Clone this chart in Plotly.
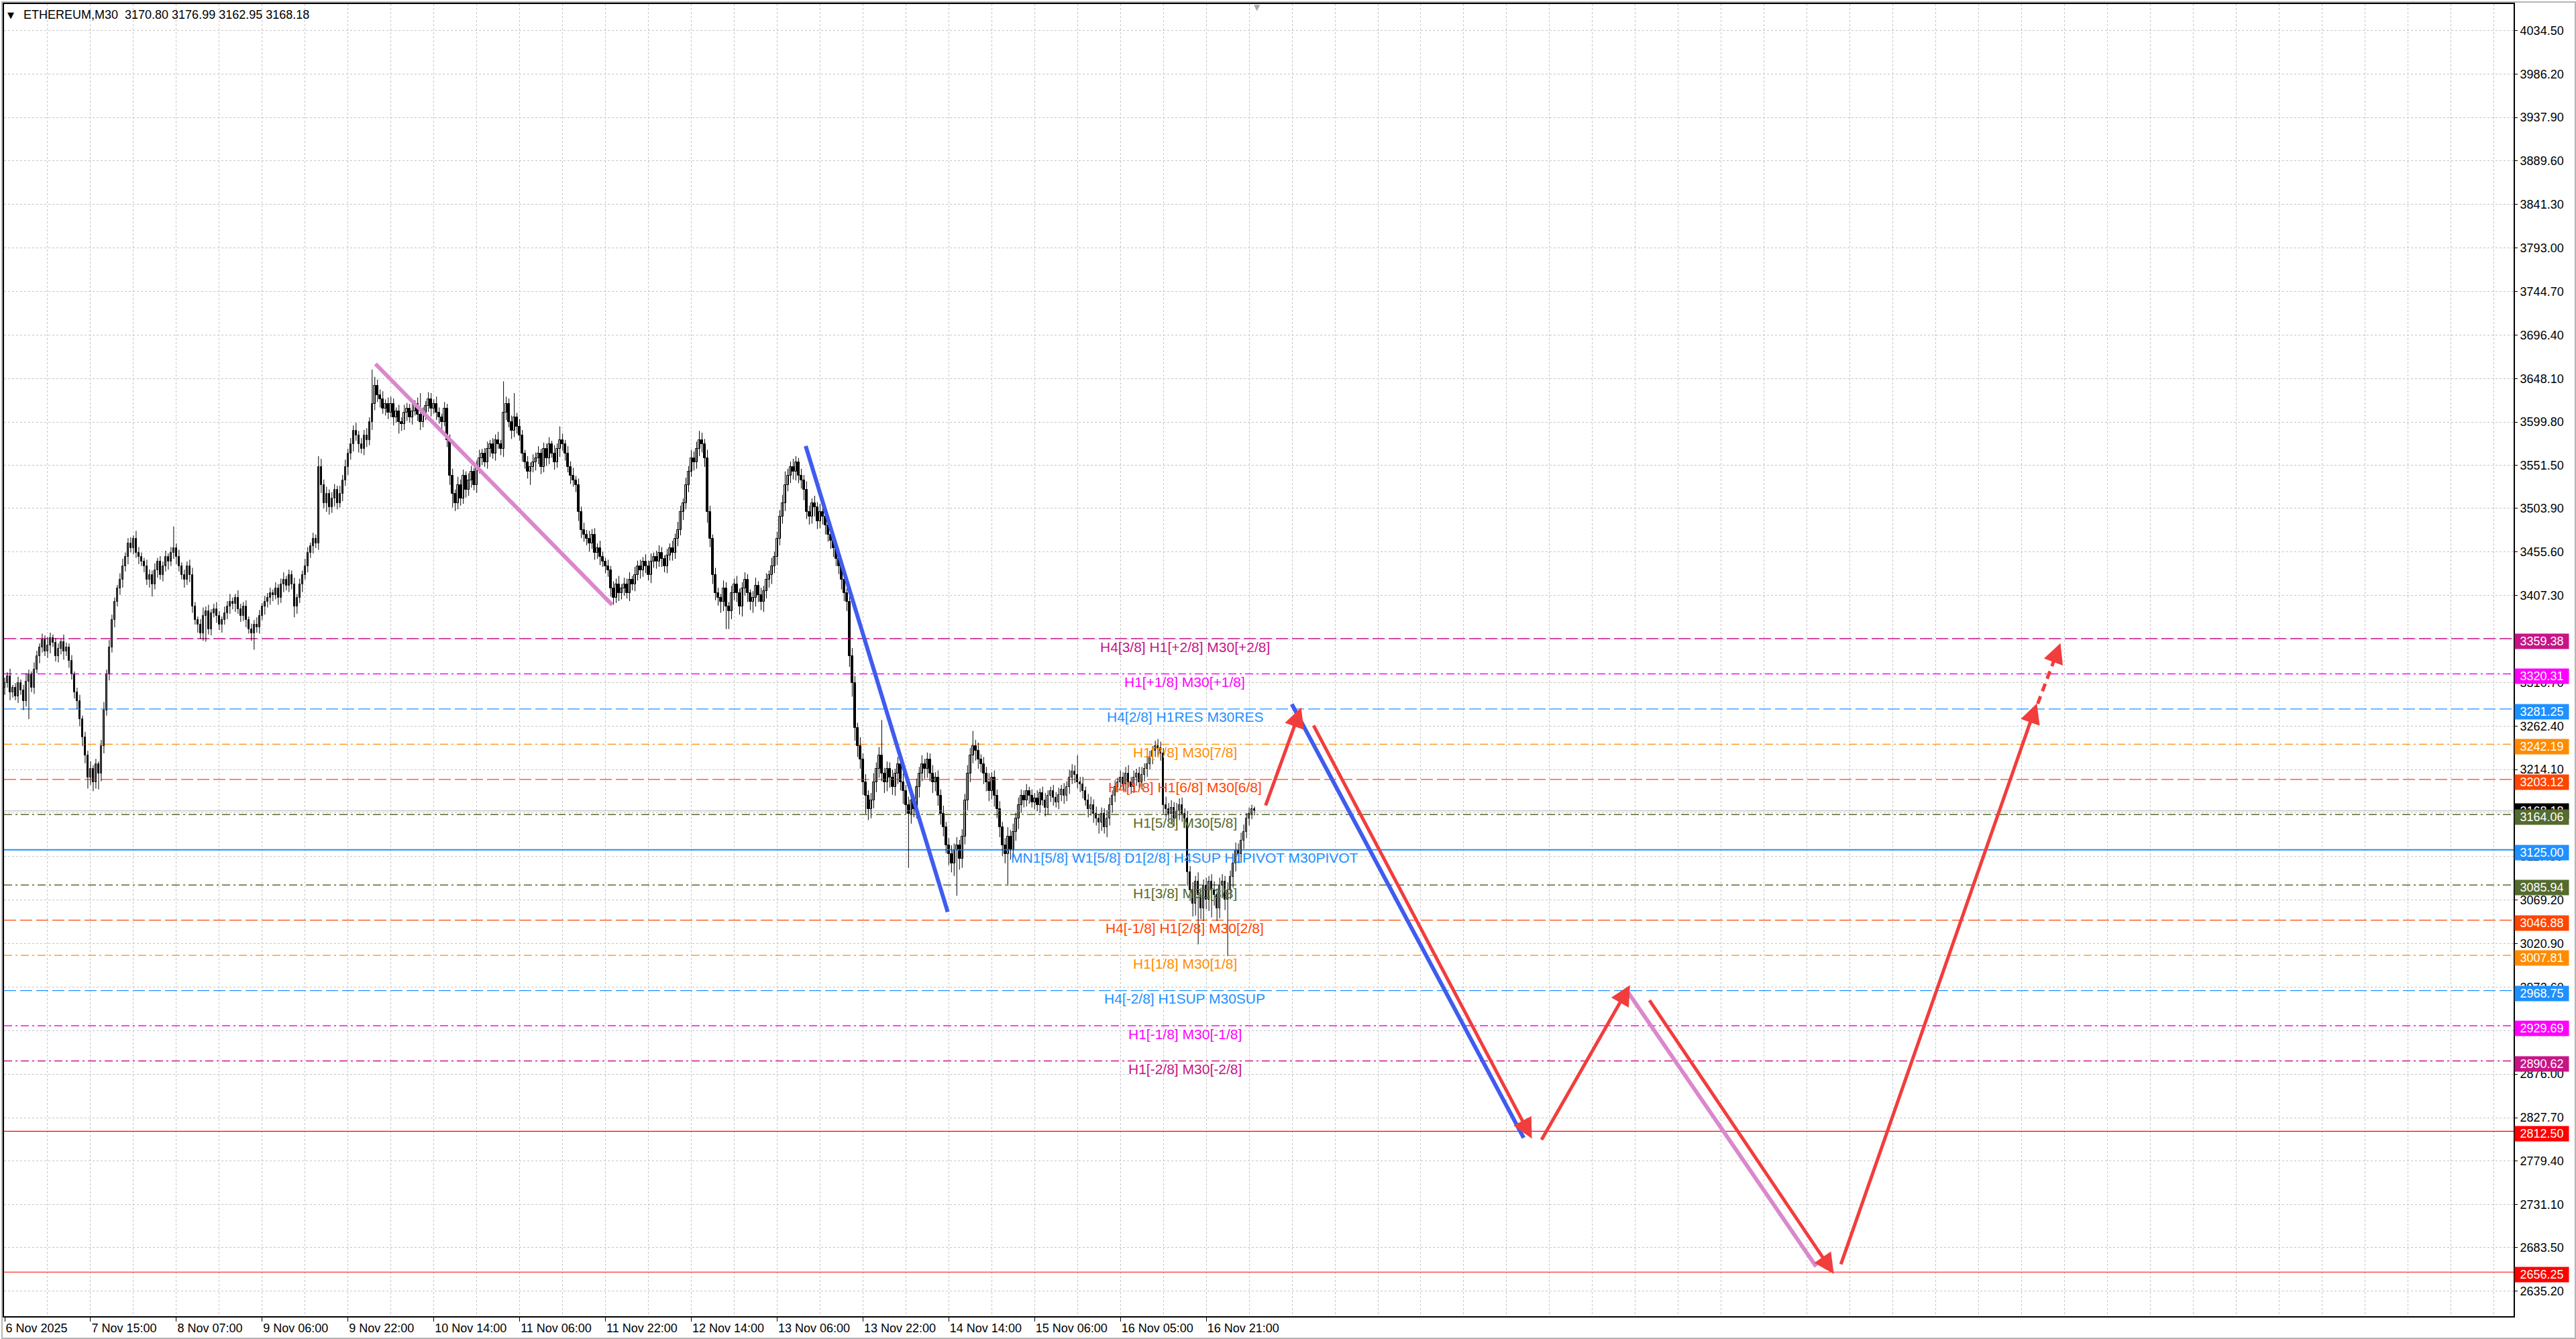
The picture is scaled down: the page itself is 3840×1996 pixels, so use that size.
import plotly.graph_objects as go

# ---------------- data ----------------
title_text = "ETHEREUM,M30  3170.80 3176.99 3162.95 3168.18"
first_open = 3305
closes = [
    3310, 3318, 3300, 3305, 3295, 3310, 3302, 3290, 3312, 3320, 3305, 3325,
    3340, 3350, 3358, 3345, 3352, 3360, 3355, 3340, 3348, 3356, 3345,
    3350, 3335, 3320, 3300, 3290, 3270,
    3250, 3230, 3205, 3215, 3200, 3220, 3210,
    3240, 3280, 3320, 3350, 3380, 3400, 3415,
    3425, 3440, 3450, 3465, 3460, 3470, 3455, 3450, 3445,
    3440, 3425, 3430, 3420, 3435, 3445, 3430, 3440, 3450, 3445, 3455, 3460, 3450, 3440, 3430, 3425, 3440, 3430,
    3395, 3380, 3375, 3365, 3385, 3390, 3370, 3388, 3392, 3385, 3375, 3380, 3388,
    3395, 3400, 3398, 3405, 3392, 3385, 3395, 3380, 3370, 3365, 3375, 3372, 3385, 3395, 3400, 3405,
    3410, 3408, 3415, 3405, 3420, 3425, 3418, 3430, 3420, 3395, 3405, 3420,
    3430, 3440, 3455, 3462, 3470, 3465, 3550,
    3530, 3510, 3520, 3505, 3515, 3525, 3510, 3520, 3535,
    3550, 3565, 3575, 3590, 3585,
    3575, 3570, 3585, 3580, 3600, 3620,
    3640, 3630, 3625, 3615, 3620,
    3610, 3620, 3605, 3612, 3600, 3598, 3610, 3615, 3605, 3612, 3620, 3608, 3600, 3610, 3618, 3625,
    3615, 3620, 3610, 3605, 3600, 3615, 3580, 3540,
    3520, 3510, 3530, 3515, 3540, 3525, 3535, 3545, 3530, 3550,
    3560, 3565, 3555, 3570, 3575, 3565, 3580, 3575, 3570,
    3610, 3620, 3600, 3590, 3605, 3595, 3585,
    3565, 3555, 3545, 3550,
    3555, 3560, 3565, 3550, 3570, 3560, 3575, 3565, 3555, 3570, 3580, 3575,
    3565, 3550, 3540, 3535, 3530,
    3500, 3480, 3475,
    3470, 3465, 3475, 3455, 3460, 3450, 3445, 3440, 3435,
    3415, 3405, 3420,
    3410, 3415, 3420, 3410, 3425, 3420,
    3430, 3440, 3435, 3445, 3440, 3430, 3445, 3450, 3445, 3455, 3448, 3440, 3452, 3460,
    3455, 3470, 3480, 3500, 3510, 3530, 3545, 3560, 3555, 3570,
    3580, 3575, 3560,
    3500, 3470, 3430, 3410,
    3405, 3400, 3415, 3395, 3390, 3410, 3420, 3410, 3395, 3415, 3425, 3410, 3400, 3405, 3418, 3408, 3400, 3412, 3425, 3430, 3440, 3450,
    3470, 3495, 3510, 3530, 3540,
    3550, 3545, 3555, 3540, 3535, 3525,
    3500, 3495, 3510, 3505, 3490, 3500, 3495, 3485,
    3475, 3468, 3460, 3448, 3440, 3425, 3410, 3400, 3340, 3310,
    3260, 3240, 3225, 3200, 3185, 3170, 3180, 3200,
    3215, 3230, 3210, 3200, 3215,
    3205, 3195, 3210, 3220, 3200, 3190,
    3175, 3165, 3180, 3170, 3195, 3210,
    3220, 3215, 3225, 3210, 3200, 3205, 3185,
    3165, 3150, 3130, 3120, 3110, 3125,
    3130, 3115, 3140, 3180, 3210,
    3230, 3240, 3235, 3225, 3220,
    3210, 3200, 3190, 3205, 3185, 3170,
    3150, 3130, 3120, 3140, 3125, 3145,
    3160, 3175, 3185, 3180, 3190,
    3185, 3178, 3182, 3175, 3188, 3180, 3172, 3185, 3190, 3183, 3178, 3186, 3192, 3185, 3195, 3205, 3212,
    3208, 3200, 3198, 3190,
    3180, 3170, 3175, 3165, 3160,
    3155, 3165, 3150, 3160, 3175,
    3185, 3195, 3200,
    3205, 3198, 3210, 3200, 3195, 3205, 3210, 3200, 3208,
    3215, 3220, 3228, 3235, 3240, 3238, 3232,
    3175, 3170, 3165, 3172, 3160, 3168, 3175, 3165, 3160, 3100,
    3080, 3065, 3090, 3075, 3060, 3085, 3070, 3090, 3080,
    3075, 3060, 3085, 3090, 3070, 3080, 3095,
    3110, 3125, 3120, 3135, 3145, 3160, 3165, 3170, 3168.18,
]
upper_wick = [
    6, 4, 8, 3, 5, 7, 4, 6, 9, 5, 3, 8, 6, 4, 7, 5, 9, 6, 4, 5,
    6, 3, 8, 5, 4, 6, 3, 5, 7, 4, 6, 5, 8, 4, 6, 3, 7, 9, 5, 8,
    6, 5, 4, 7, 8, 5, 6, 7, 4, 9, 6, 5, 4, 7, 6, 5, 8, 4, 6, 5,
    7, 4, 6, 24, 5, 8, 4, 6, 5, 7, 8, 5, 4, 6, 9, 5, 7, 4, 6, 8,
    5, 4, 7, 6, 9, 5, 4, 8, 6, 5, 7, 4, 6, 5, 8, 6, 4, 7, 5, 6,
    4, 7, 5, 6, 8, 4, 6, 5, 7, 4, 6, 5, 8, 6, 4, 7, 5, 12, 9, 6,
    8, 5, 7, 6, 4, 9, 6, 8, 5, 7, 6, 9, 5, 7, 6, 8, 5, 38, 10, 7,
    6, 9, 5, 7, 8, 6, 4, 7, 5, 9, 6, 5, 8, 4, 7, 24, 6, 5, 8, 7,
    5, 8, 6, 4, 7, 5, 6, 8, 5, 9, 6, 7, 5, 8, 6, 4, 7, 9, 5, 6,
    8, 5, 7, 6, 9, 5, 35, 8, 6, 7, 27, 5, 8, 6, 4, 7, 5, 9, 6, 8,
    5, 7, 6, 8, 4, 9, 6, 15, 7, 5, 8, 6, 9, 5, 7, 6, 8, 5, 9, 6,
    7, 5, 8, 6, 4, 7, 5, 8, 6, 9, 5, 7, 6, 8, 4, 9, 6, 7, 5, 8,
    6, 9, 5, 7, 8, 6, 4, 7, 5, 8, 6, 9, 7, 5, 8, 6, 9, 7, 8, 10,
    8, 6, 9, 7, 5, 8, 6, 4, 9, 7, 5, 8, 6, 9, 5, 7, 8, 6, 4, 7,
    9, 5, 8, 6, 7, 5, 9, 6, 8, 7, 9, 15, 8, 6, 9, 7, 5, 8, 6, 9,
    7, 5, 8, 6, 9, 5, 7, 8, 6, 5, 7, 9, 6, 8, 5, 7, 9, 8, 6, 10,
    7, 9, 6, 8, 10, 7, 9, 39, 6, 8, 7, 9, 5, 8, 6, 10, 7, 9, 8, 6,
    9, 7, 10, 6, 8, 7, 9, 6, 8, 7, 9, 6, 8, 10, 7, 9, 6, 8, 7, 9,
    8, 17, 7, 9, 6, 8, 7, 10, 6, 8, 7, 9, 6, 8, 10, 7, 9, 6, 8, 7,
    6, 8, 5, 7, 6, 9, 5, 7, 8, 6, 5, 7, 6, 8, 5, 7, 6, 9, 8, 7,
    22, 6, 8, 5, 7, 9, 6, 8, 5, 7, 6, 9, 8, 6, 7, 5, 8, 6, 7, 9,
    6, 8, 5, 7, 9, 6, 8, 7, 5, 6, 8, 7, 6, 9, 7, 8, 6, 9, 7, 8,
    6, 8, 7, 9, 6, 10, 8, 7, 9, 6, 8, 10, 7, 9, 8, 6, 9, 7, 10, 8,
    7, 9, 8, 6, 7, 5, 3,
]
lower_wick = [
    8, 5, 9, 6, 4, 7, 5, 10, 6, 42, 5, 7, 4, 8, 6, 5, 7, 9, 5, 6,
    7, 6, 9, 5, 8, 6, 7, 9, 8, 10, 9, 12, 8, 10, 7, 18, 9, 8, 6, 7,
    6, 8, 5, 7, 9, 6, 8, 5, 7, 6, 8, 5, 7, 6, 9, 14, 6, 8, 5, 7,
    6, 9, 5, 7, 8, 6, 5, 9, 6, 8, 7, 5, 9, 6, 8, 29, 6, 7, 5, 8,
    6, 9, 5, 7, 8, 6, 9, 5, 7, 6, 8, 5, 8, 18, 6, 7, 5, 9, 6, 8,
    7, 5, 8, 6, 9, 5, 7, 6, 12, 8, 6, 9, 5, 7, 6, 8, 5, 7, 9, 6,
    10, 8, 6, 9, 7, 5, 8, 6, 9, 7, 8, 6, 9, 5, 7, 8, 6, 9, 7, 8,
    9, 6, 8, 7, 5, 9, 6, 13, 8, 7, 9, 6, 8, 5, 7, 9, 6, 8, 7, 9,
    6, 8, 7, 9, 5, 8, 10, 15, 9, 7, 8, 6, 9, 7, 8, 6, 9, 7, 8, 5,
    7, 9, 6, 8, 5, 7, 9, 8, 6, 9, 7, 8, 6, 9, 7, 8, 15, 6, 9, 7,
    8, 6, 9, 7, 5, 8, 6, 9, 7, 8, 6, 9, 7, 8, 10, 9, 8, 7, 9, 6,
    8, 7, 9, 6, 8, 7, 9, 8, 6, 9, 7, 8, 6, 9, 7, 8, 6, 9, 7, 8,
    6, 9, 7, 8, 6, 9, 7, 8, 6, 9, 7, 8, 6, 9, 7, 8, 6, 9, 7, 8,
    9, 10, 12, 9, 10, 8, 9, 12, 10, 25, 20, 9, 8, 10, 9, 11, 8, 10, 9, 12,
    10, 8, 9, 11, 8, 9, 10, 8, 9, 7, 8, 9, 7, 8, 9, 10, 8, 9, 12, 8,
    9, 8, 10, 9, 8, 9, 10, 8, 9, 10, 8, 9, 11, 9, 10, 12, 15, 14, 12, 10,
    14, 20, 12, 10, 9, 11, 10, 9, 12, 10, 11, 9, 10, 12, 9, 14, 10, 60, 11, 9,
    10, 12, 9, 11, 10, 9, 12, 10, 11, 12, 10, 9, 12, 10, 14, 51, 12, 10, 9, 11,
    10, 9, 11, 10, 9, 12, 10, 11, 9, 12, 10, 11, 12, 10, 35, 11, 9, 10, 12, 9,
    8, 7, 9, 6, 8, 7, 9, 6, 10, 8, 7, 9, 6, 8, 7, 9, 6, 8, 7, 9,
    7, 9, 8, 6, 9, 7, 10, 8, 12, 9, 7, 11, 8, 9, 7, 6, 8, 7, 9, 6,
    8, 7, 9, 6, 8, 7, 9, 6, 8, 7, 9, 8, 10, 9, 8, 12, 9, 8, 10, 9,
    11, 15, 12, 14, 13, 55, 12, 14, 11, 13, 30, 12, 14, 11, 13, 12, 63, 10, 12, 9,
    10, 8, 9, 7, 8, 6, 5,
]

x_tick_bars = [0, 32, 64, 96, 128, 160, 192, 224, 256, 288, 320, 352, 384, 416, 448]
x_tick_text = ["6 Nov 2025", "7 Nov 15:00", "8 Nov 07:00", "9 Nov 06:00", "9 Nov 22:00",
               "10 Nov 14:00", "11 Nov 06:00", "11 Nov 22:00", "12 Nov 14:00", "13 Nov 06:00",
               "13 Nov 22:00", "14 Nov 14:00", "15 Nov 06:00", "16 Nov 05:00", "16 Nov 21:00"]
y_tick_text = ["4034.50", "3986.20", "3937.90", "3889.60", "3841.30", "3793.00", "3744.70",
               "3696.40", "3648.10", "3599.80", "3551.50", "3503.90", "3455.60", "3407.30",
               "3359.00", "3310.70", "3262.40", "3214.10", "3165.80", "3117.50", "3069.20",
               "3020.90", "2972.60", "2924.30", "2876.00", "2827.70", "2779.40", "2731.10",
               "2683.50", "2635.20"]

levels = [3359.38, 3320.31, 3281.25, 3242.19, 3203.12, 3164.06, 3125.00,
          3085.94, 3046.88, 3007.81, 2968.75, 2929.69, 2890.62]
level_names = ["H4[3/8] H1[+2/8] M30[+2/8]", "H1[+1/8] M30[+1/8]", "H4[2/8] H1RES M30RES",
               "H1[7/8] M30[7/8]", "H4[1/8] H1[6/8] M30[6/8]", "H1[5/8] M30[5/8]",
               "MN1[5/8] W1[5/8] D1[2/8] H4SUP H1PIVOT M30PIVOT", "H1[3/8] M30[3/8]",
               "H4[-1/8] H1[2/8] M30[2/8]", "H1[1/8] M30[1/8]", "H4[-2/8] H1SUP M30SUP",
               "H1[-1/8] M30[-1/8]", "H1[-2/8] M30[-2/8]"]
target_levels = [2812.50, 2656.25]
last_price = 3168.18
shift_bar = 467

# thick trend lines (bar index, price)
trend_x0 = [138.25, 298.65, 479.9, 605.3]
trend_y0 = [3664.3, 3573.1, 3286.7, 2966.7]
trend_x1 = [226.5, 351.6, 566.35, 675.4]
trend_y1 = [3396.9, 3056.0, 2805.3, 2662.4]
# projected path arrows
arrow_x0 = [470.0, 487.8, 572.8, 613.0, 684.5, 758.0]
arrow_y0 = [3173.1, 3264.2, 2802.1, 2959.0, 2663.8, 3287.0]
arrow_x1 = [483.4, 569.4, 606.0, 682.0, 757.7, 766.5]
arrow_y1 = [3283.1, 2804.4, 2974.8, 2654.3, 3287.6, 3354.4]

# ---------------- styles ----------------
C_MVR, C_MAG, C_DB, C_DO, C_OR, C_OL = "#C71585", "#FF00FF", "#1E90FF", "#FF8C00", "#FF4500", "#556B2F"
level_colors = [C_MVR, C_MAG, C_DB, C_DO, C_OR, C_OL, C_DB, C_OL, C_OR, C_DO, C_DB, C_MAG, C_MVR]
DASH = "18px,6px"
DDOT = "12px,5px,3px,5px"
level_dash = [DASH, DDOT, DASH, DDOT, DASH, DDOT, "solid", DDOT, DASH, DDOT, DASH, DDOT, DDOT]
trend_colors = ["#DA88CC", "#3F5CEE", "#3F5CEE", "#DA88CC"]
ARROW_RED = "#F23D3D"
FONT = "Arial, Liberation Sans, sans-serif"

n = min(len(closes), len(upper_wick), len(lower_wick))
closes = closes[:n]
opens = [first_open] + closes[:-1]
highs = [max(o, c) + w for o, c, w in zip(opens, closes, upper_wick[:n])]
lows = [min(o, c) - w for o, c, w in zip(opens, closes, lower_wick[:n])]
bars = list(range(n))

W, H = 3840, 1996
ML, MR, MT, MB = 4, 93, 4, 34
PW, PH = W - ML - MR, H - MT - MB
X_RANGE = [-0.25, 935.45]
Y_RANGE = [2607.3, 4063.8]

fig = go.Figure()

# window border (light gray, around the whole image)
fig.add_shape(type="rect", xref="paper", yref="paper",
              x0=(1 - ML) / PW, x1=(W - 1 - ML) / PW,
              y0=1 - (H - 1 - MT) / PH, y1=1 - (1 - MT) / PH,
              line=dict(color="#B4B4B4", width=2), fillcolor="rgba(0,0,0,0)", layer="below")

# level lines (traces spanning the full x range)
def hline(val, color, width, dash):
    fig.add_trace(go.Scatter(x=X_RANGE, y=[val, val], mode="lines",
                             line=dict(color=color, width=width, dash=dash),
                             hoverinfo="skip", showlegend=False, cliponaxis=True))

hline(last_price, "#B0B0B0", 1.2, "solid")
for lv, col, dsh in zip(levels, level_colors, level_dash):
    hline(lv, col, 2 if dsh == "solid" else 1.4, dsh)
for lv in target_levels:
    hline(lv, "#FF0000", 1.2, "solid")

# candles: wicks then bodies
wx, wy = [], []
for i, lo, hi in zip(bars, lows, highs):
    wx += [i, i, None]
    wy += [lo, hi, None]
fig.add_trace(go.Scatter(x=wx, y=wy, mode="lines", line=dict(color="black", width=1),
                         hoverinfo="skip", showlegend=False))
body_base = [min(o, c) for o, c in zip(opens, closes)]
body_len = [max(abs(c - o), 0.7) for o, c in zip(opens, closes)]
body_fill = ["white" if c >= o else "black" for o, c in zip(opens, closes)]
fig.add_trace(go.Bar(x=bars, y=body_len, base=body_base, width=0.62,
                     marker=dict(color=body_fill, line=dict(color="black", width=1)),
                     hoverinfo="skip", showlegend=False))

for x0, y0, x1, y1, col in zip(trend_x0, trend_y0, trend_x1, trend_y1, trend_colors):
    fig.add_trace(go.Scatter(x=[x0, x1], y=[y0, y1], mode="lines",
                             line=dict(color=col, width=6), hoverinfo="skip", showlegend=False))

# arrows
for i, (x0, y0, x1, y1) in enumerate(zip(arrow_x0, arrow_y0, arrow_x1, arrow_y1)):
    dashed = i == len(arrow_x0) - 1
    if dashed:
        fig.add_trace(go.Scatter(x=[x0, x1], y=[y0, y1], mode="lines",
                                 line=dict(color=ARROW_RED, width=5, dash="12px,8px"),
                                 hoverinfo="skip", showlegend=False))
        tx = x1 - 0.25 * (x1 - x0)
        ty = y1 - 0.25 * (y1 - y0)
    else:
        tx, ty = x0, y0
    fig.add_annotation(x=x1, y=y1, ax=tx, ay=ty, xref="x", yref="y", axref="x", ayref="y",
                       text="", showarrow=True, arrowhead=2, arrowsize=1.2, arrowwidth=5,
                       arrowcolor=ARROW_RED, standoff=0, startstandoff=0)

# level labels in the chart
for lv, name, col in zip(levels, level_names, level_colors):
    fig.add_annotation(x=440, y=lv, xref="x", yref="y", text=name, showarrow=False,
                       xanchor="center", yanchor="middle", yshift=-12,
                       font=dict(family=FONT, size=21, color=col))

# price boxes on the axis
def price_box(val, bg, yshift):
    fig.add_annotation(x=1, y=val, xref="paper", yref="y", text="%.2f" % val, showarrow=False,
                       xanchor="left", yanchor="middle", xshift=1, yshift=yshift,
                       bgcolor=bg, width=78, height=20, borderpad=1,
                       font=dict(family=FONT, size=18, color="white"))

price_box(last_price, "black", 0)
for lv, col in zip(levels, level_colors):
    price_box(lv, col, -4)
for lv in target_levels:
    price_box(lv, "#FF0000", -4)

# title and chart-shift marker
fig.add_annotation(x=0, y=1, xref="paper", yref="paper", text="\u25bc", showarrow=False,
                   xanchor="left", yanchor="middle", xshift=3, yshift=-16,
                   font=dict(family="DejaVu Sans", size=13, color="black"))
fig.add_annotation(x=0, y=1, xref="paper", yref="paper", text=title_text, showarrow=False,
                   xanchor="left", yanchor="middle", xshift=27, yshift=-16,
                   font=dict(family=FONT, size=18, color="black"))
fig.add_annotation(x=shift_bar, y=1, xref="x", yref="paper", text="\u25bc", showarrow=False,
                   xanchor="center", yanchor="top", yshift=4,
                   font=dict(family="DejaVu Sans", size=12, color="#A8A8A8"))

fig.update_layout(
    width=W, height=H, margin=dict(l=ML, r=MR, t=MT, b=MB),
    paper_bgcolor="white", plot_bgcolor="white", showlegend=False, bargap=0,
    xaxis=dict(range=X_RANGE, tickmode="array",
               tickvals=x_tick_bars, ticktext=x_tick_text, ticks="outside", ticklen=6,
               tickcolor="black", ticklabelposition="outside right",
               tickfont=dict(family=FONT, size=18, color="black"),
               showgrid=True, gridcolor="#C4C4C4", griddash="3px,3px", gridwidth=1,
               minor=dict(tickmode="linear", tick0=0, dtick=16, showgrid=True,
                          gridcolor="#C4C4C4", griddash="3px,3px", ticks=""),
               showline=True, linecolor="black", linewidth=2, mirror=True, zeroline=False,
               fixedrange=True),
    yaxis=dict(range=Y_RANGE, side="right", tickmode="array",
               tickvals=[float(t) for t in y_tick_text], ticktext=y_tick_text,
               ticks="outside", ticklen=4, tickcolor="black",
               tickfont=dict(family=FONT, size=18, color="black"),
               showgrid=True, gridcolor="#C4C4C4", griddash="3px,3px", gridwidth=1,
               showline=True, linecolor="black", linewidth=2, mirror=True, zeroline=False,
               fixedrange=True),
)

fig.write_html("out.html", config={"displayModeBar": False},
               post_script="document.body.style.margin='0px';document.body.style.overflow='hidden';")
